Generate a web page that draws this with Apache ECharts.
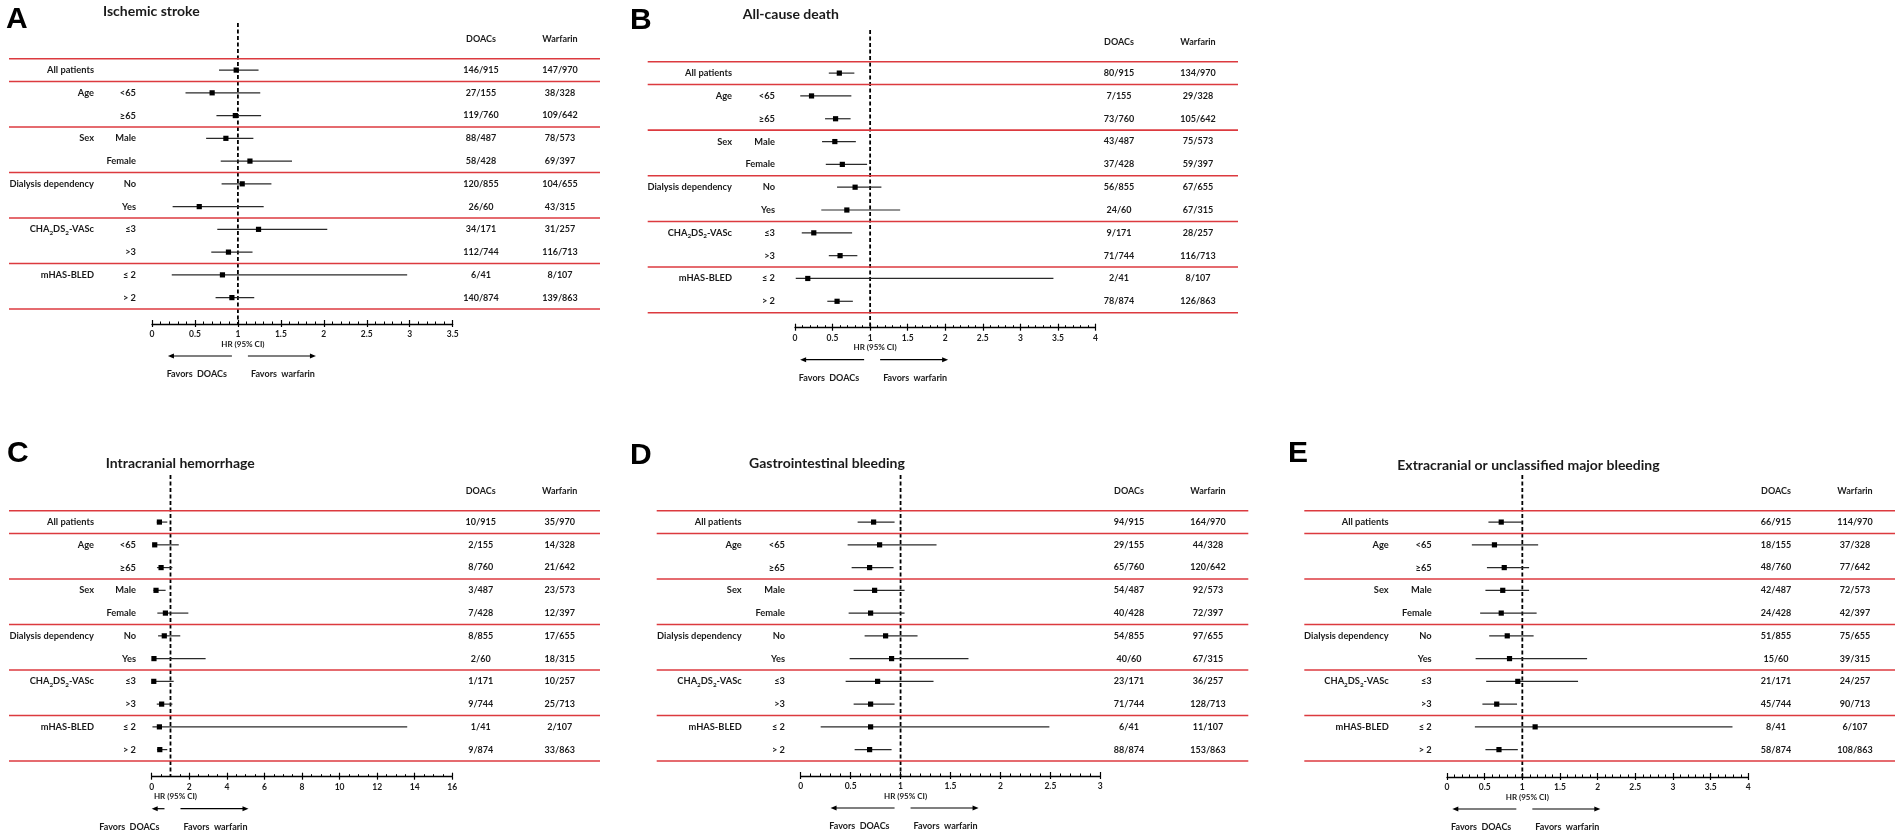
<!DOCTYPE html>
<html><head><meta charset="utf-8">
<script src="https://cdn.jsdelivr.net/npm/echarts@6/dist/echarts.min.js"></script>
<style>html,body{margin:0;padding:0;background:#fff}#c{width:1902px;height:836px}</style>
</head><body><div id="c"></div>
<script>
// ---------- data ----------
const groupLabels = ['All patients','Age','','Sex','','Dialysis dependency','','CHA{s|2}DS{s|2}-VASc','','mHAS-BLED',''];
const subgroupLabels = ['','<65','≥65','Male','Female','No','Yes','≤3','>3','≤ 2','> 2'];
const panelLetters = ['A','B','C','D','E'];
const panelTitles = ['Ischemic stroke','All-cause death','Intracranial hemorrhage','Gastrointestinal bleeding','Extracranial or unclassified major bleeding'];
const axisMax = [3.5, 4, 16, 3, 4];
const axisInterval = [0.5, 0.5, 2, 0.5, 0.5];
const minorSplit = [5, 5, 4, 5, 5];

const hrA = [0.98,0.70,0.97,0.86,1.14,1.05,0.55,1.24,0.89,0.82,0.93];
const loA = [0.78,0.39,0.75,0.63,0.80,0.81,0.24,0.76,0.69,0.23,0.74];
const hiA = [1.24,1.26,1.27,1.18,1.63,1.39,1.30,2.04,1.17,2.97,1.19];
const doacsA = ['146/915','27/155','119/760','88/487','58/428','120/855','26/60','34/171','112/744','6/41','140/874'];
const warfA = ['147/970','38/328','109/642','78/573','69/397','104/655','43/315','31/257','116/713','8/107','139/863'];

const hrB = [0.59,0.22,0.54,0.53,0.63,0.80,0.69,0.25,0.60,0.17,0.56];
const loB = [0.45,0.07,0.40,0.36,0.41,0.56,0.35,0.09,0.45,0.01,0.43];
const hiB = [0.79,0.75,0.74,0.81,0.96,1.15,1.40,0.76,0.83,3.44,0.77];
const doacsB = ['80/915','7/155','73/760','43/487','37/428','56/855','24/60','9/171','71/744','2/41','78/874'];
const warfB = ['134/970','29/328','105/642','75/573','59/397','67/655','67/315','28/257','116/713','8/107','126/863'];

const hrC = [0.41,0.16,0.50,0.23,0.73,0.67,0.12,0.11,0.53,0.41,0.43];
const loC = [0.27,0.04,0.28,0.09,0.30,0.34,0.02,0.02,0.27,0.04,0.28];
const hiC = [0.83,1.44,1.10,0.74,1.95,1.52,2.87,1.17,1.10,13.6,0.83];
const doacsC = ['10/915','2/155','8/760','3/487','7/428','8/855','2/60','1/171','9/744','1/41','9/874'];
const warfC = ['35/970','14/328','21/642','23/573','12/397','17/655','18/315','10/257','25/713','2/107','33/863'];

const hrD = [0.73,0.79,0.69,0.74,0.70,0.85,0.91,0.77,0.70,0.70,0.69];
const loD = [0.57,0.47,0.51,0.53,0.48,0.64,0.49,0.45,0.53,0.20,0.54];
const hiD = [0.94,1.36,0.93,1.04,1.04,1.17,1.68,1.33,0.94,2.49,0.91];
const doacsD = ['94/915','29/155','65/760','54/487','40/428','54/855','40/60','23/171','71/744','6/41','88/874'];
const warfD = ['164/970','44/328','120/642','92/573','72/397','97/655','67/315','36/257','128/713','11/107','153/863'];

const hrE = [0.72,0.63,0.76,0.74,0.72,0.80,0.83,0.94,0.66,1.17,0.69];
const loE = [0.55,0.33,0.53,0.51,0.44,0.56,0.38,0.52,0.47,0.37,0.51];
const hiE = [1.00,1.21,1.09,1.09,1.19,1.15,1.86,1.74,0.93,3.79,0.94];
const doacsE = ['66/915','18/155','48/760','42/487','24/428','51/855','15/60','21/171','45/744','8/41','58/874'];
const warfE = ['114/970','37/328','77/642','72/573','42/397','75/655','39/315','24/257','90/713','6/107','108/863'];

const hrAll = [hrA,hrB,hrC,hrD,hrE];
const loAll = [loA,loB,loC,loD,loE];
const hiAll = [hiA,hiB,hiC,hiD,hiE];
const doacsAll = [doacsA,doacsB,doacsC,doacsD,doacsE];
const warfAll = [warfA,warfB,warfC,warfD,warfE];

// ---------- layout (pixels) ----------
const layout = [
 {left:9, right:600, top:58.7, bottom:309, x0:152, x1:452.7, dashTop:23, axisY:324, groupR:94, subR:136, doacsX:481, warfX:560, letterX:6, letterY:20, titleX:103, titleY:11},
 {left:647.7, right:1238, top:61.7, bottom:312.7, x0:795, x1:1095.5, dashTop:30, axisY:327.7, groupR:732, subR:775, doacsX:1119, warfX:1198, letterX:630, letterY:21, titleX:742.7, titleY:14},
 {left:9, right:600, top:510.7, bottom:761, x0:151.7, x1:452.3, dashTop:475, axisY:776.7, groupR:94, subR:136, doacsX:480.7, warfX:559.7, letterX:7, letterY:454, titleX:105.7, titleY:463.3},
 {left:656.7, right:1248.3, top:510.7, bottom:761, x0:800.7, x1:1100.3, dashTop:475, axisY:776, groupR:741.7, subR:785, doacsX:1129, warfX:1208, letterX:630, letterY:456, titleX:749, titleY:463.3},
 {left:1304.3, right:1895, top:510.7, bottom:761, x0:1447, x1:1748.3, dashTop:475, axisY:777, groupR:1388.7, subR:1431.7, doacsX:1776, warfX:1855, letterX:1288, letterY:454, titleX:1397.3, titleY:465}
];

const FONT = 'Lato, "Open Sans", "DejaVu Sans", sans-serif';
const TXT = '#1a1a1a';
const RED = '#dc3a3f';
const nRows = groupLabels.length;
const rowIds = groupLabels.map((_, i) => String(i));
const groupStarts = groupLabels.map((g, i) => g !== '' ? i : -1).filter(i => i >= 0);
const boundaries = groupStarts.map(i => i - 0.5).concat([nRows - 0.5]);

const grid = [], xAxis = [], yAxis = [], series = [], graphic = [];

layout.forEach((L, p) => {
  const rowH = (L.bottom - L.top) / nRows;
  const yMin = -0.5 - (L.top - L.dashTop) / rowH;
  const yMax = nRows - 0.5 + (L.axisY - L.bottom) / rowH;
  const tg = grid.length;
  grid.push({left: L.left, top: L.top, width: L.right - L.left, height: L.bottom - L.top, containLabel: false, outerBoundsMode: 'none'});
  const fg = grid.length;
  grid.push({left: L.x0, top: L.dashTop, width: L.x1 - L.x0, height: L.axisY - L.dashTop, containLabel: false, outerBoundsMode: 'none'});

  const tx = xAxis.length;
  xAxis.push({gridIndex: tg, type: 'value', min: 0, max: 1, show: false, axisLine: {onZero: false}});
  const fx = xAxis.length;
  xAxis.push({gridIndex: fg, type: 'value', min: 0, max: axisMax[p], interval: axisInterval[p], position: 'bottom',
    axisLine: {show: true, onZero: false, lineStyle: {color: '#000', width: 1.3}},
    axisTick: {show: true, length: 3, lineStyle: {color: '#000', width: 1.2}},
    minorTick: {show: false}, splitLine: {show: false}, minorSplitLine: {show: false},
    axisLabel: {show: true, margin: 6, fontSize: 8.5, fontWeight: 'bold', color: TXT, fontFamily: FONT, showMinLabel: true, showMaxLabel: true}});
  xAxis.push({gridIndex: fg, type: 'value', min: 0, max: axisMax[p], interval: axisInterval[p], position: 'bottom',
    axisLine: {show: false, onZero: false},
    axisTick: {show: true, inside: true, length: 4, lineStyle: {color: '#000', width: 1.2}},
    minorTick: {show: true, splitNumber: minorSplit[p], length: 2.5, lineStyle: {color: '#000', width: 1}},
    splitLine: {show: false}, axisLabel: {show: false}});

  const ry = yAxis.length;
  yAxis.push({gridIndex: tg, type: 'value', min: -0.5, max: nRows - 0.5, inverse: true, show: false, axisLine: {onZero: false}});
  const labelBase = {interval: 0, margin: 0, fontWeight: 'bold', color: TXT, fontFamily: FONT};
  const catBase = {gridIndex: tg, type: 'category', data: rowIds, inverse: true,
    axisLine: {show: false, onZero: false}, axisTick: {show: false}, splitLine: {show: false}};
  yAxis.push(Object.assign({}, catBase, {position: 'left', offset: L.left - L.groupR,
    axisLabel: Object.assign({}, labelBase, {fontSize: 9.3, lineHeight: 13, formatter: v => groupLabels[+v],
      rich: {s: {fontSize: 6.3, fontWeight: 'bold', color: TXT, fontFamily: FONT, verticalAlign: 'bottom', lineHeight: 7}}})}));
  yAxis.push(Object.assign({}, catBase, {position: 'left', offset: L.left - L.subR,
    axisLabel: Object.assign({}, labelBase, {fontSize: 9.3, formatter: v => subgroupLabels[+v]})}));
  const nameStyle = {fontSize: 9, fontWeight: 'bold', color: TXT, fontFamily: FONT, align: 'center', verticalAlign: 'middle'};
  const dArr = doacsAll[p], wArr = warfAll[p];
  yAxis.push(Object.assign({}, catBase, {position: 'right', offset: L.doacsX - L.right,
    name: 'DOACs', nameLocation: 'start', nameGap: L.top - (L.top - 19.7), nameTextStyle: nameStyle,
    axisLabel: Object.assign({}, labelBase, {fontSize: 9, align: 'center', formatter: v => dArr[+v]})}));
  yAxis.push(Object.assign({}, catBase, {position: 'right', offset: L.warfX - L.right,
    name: 'Warfarin', nameLocation: 'start', nameGap: 19.7, nameTextStyle: nameStyle,
    axisLabel: Object.assign({}, labelBase, {fontSize: 9, align: 'center', formatter: v => wArr[+v]})}));
  const fy = yAxis.length;
  yAxis.push({gridIndex: fg, type: 'value', min: yMin, max: yMax, inverse: true, show: false, axisLine: {onZero: false}});

  // red separator lines
  series.push({type: 'custom', xAxisIndex: tx, yAxisIndex: ry, silent: true, clip: false,
    data: boundaries.map(b => [0, b]), encode: {x: 0, y: 1},
    renderItem: (params, api) => {
      const b = api.value(1);
      const a = api.coord([0, b]), c = api.coord([1, b]);
      return {type: 'line', shape: {x1: a[0], y1: a[1], x2: c[0], y2: c[1]}, style: {stroke: RED, lineWidth: 1.6}};
    }});

  // dashed reference line, HR label, arrows and favour texts
  series.push({type: 'custom', xAxisIndex: fx, yAxisIndex: fy, silent: true, clip: false, z: 1,
    data: [[1, yMax]], encode: {x: 0, y: 1},
    renderItem: (params, api) => {
      const top = api.coord([1, yMin]);
      const bot = api.coord([1, yMax]);
      const zero = api.coord([0, yMax]);
      const xr = bot[0], ay = bot[1];
      const tStyle = (t, al) => ({text: t, fill: TXT, fontSize: 9, fontWeight: 'bold', fontFamily: FONT, align: al, verticalAlign: 'middle'});
      const lx1 = xr - 6, lx0 = Math.max(zero[0], xr - 70);
      const rx0 = xr + 10, rx1 = xr + 78;
      const arY = ay + 32;
      return {type: 'group', children: [
        {type: 'line', shape: {x1: xr, y1: top[1], x2: xr, y2: ay}, style: {stroke: '#000', lineWidth: 1.8, lineDash: [4, 2.5]}},
        {type: 'text', x: xr + 5, y: ay + 20, style: Object.assign(tStyle('HR (95% CI)', 'center'), {fontSize: 8})},
        {type: 'line', shape: {x1: lx0 + 3, y1: arY, x2: lx1, y2: arY}, style: {stroke: '#000', lineWidth: 1.2}},
        {type: 'polygon', shape: {points: [[lx0, arY], [lx0 + 6, arY - 2.5], [lx0 + 6, arY + 2.5]]}, style: {fill: '#000'}},
        {type: 'line', shape: {x1: rx0, y1: arY, x2: rx1 - 3, y2: arY}, style: {stroke: '#000', lineWidth: 1.2}},
        {type: 'polygon', shape: {points: [[rx1, arY], [rx1 - 6, arY - 2.5], [rx1 - 6, arY + 2.5]]}, style: {fill: '#000'}},
        {type: 'text', x: lx1 - 5, y: ay + 50, style: tStyle('Favors  DOACs', 'right')},
        {type: 'text', x: rx0 + 3, y: ay + 50, style: tStyle('Favors  warfarin', 'left')}
      ]};
    }});

  // hazard ratios with 95% CI
  const hr = hrAll[p], lo = loAll[p], hi = hiAll[p];
  series.push({type: 'custom', xAxisIndex: fx, yAxisIndex: fy, silent: true, clip: false, z: 3,
    data: hr.map((v, i) => [i, v, lo[i], hi[i]]), encode: {x: [1, 2, 3], y: 0},
    renderItem: (params, api) => {
      const r = api.value(0);
      const c = api.coord([api.value(1), r]);
      const a = api.coord([api.value(2), r]);
      const b = api.coord([api.value(3), r]);
      return {type: 'group', children: [
        {type: 'line', shape: {x1: a[0], y1: c[1], x2: b[0], y2: c[1]}, style: {stroke: '#2a2a2a', lineWidth: 1.2}},
        {type: 'rect', shape: {x: c[0] - 2.6, y: c[1] - 2.6, width: 5.2, height: 5.2}, style: {fill: '#000'}}
      ]};
    }});

  graphic.push({type: 'text', x: L.letterX, y: L.letterY, style: {text: panelLetters[p], fill: '#000', fontSize: 30, fontWeight: 'bold', fontFamily: '"Liberation Sans", Arial, sans-serif', verticalAlign: 'middle'}});
  graphic.push({type: 'text', x: L.titleX, y: L.titleY, style: {text: panelTitles[p], fill: TXT, fontSize: 14, fontWeight: 'bold', fontFamily: FONT, verticalAlign: 'middle'}});
});

const chart = echarts.init(document.getElementById('c'), null, {renderer: 'canvas'});
chart.setOption({animation: false, backgroundColor: '#fff', grid, xAxis, yAxis, series, graphic});
</script></body></html>
